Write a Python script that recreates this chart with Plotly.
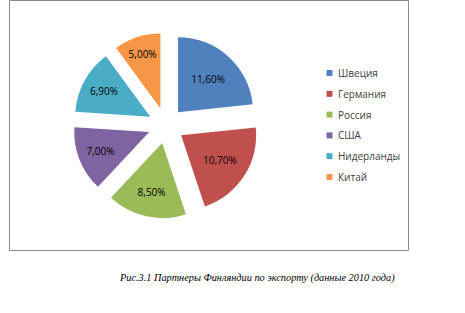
import plotly.graph_objects as go

W, H = 465, 313

categories = ["Швеция", "Германия", "Россия", "США", "Нидерланды", "Китай"]
values = [11.6, 10.7, 8.5, 7.0, 6.9, 5.0]
colors = ["#4F81BD", "#C0504D", "#9BBB59", "#8064A2", "#4BACC6", "#F79646"]
caption = "Рис.3.1 Партнеры Финляндии по экспорту (данные 2010 года)"

labels_text = [f"{v:.2f}".replace(".", ",") + "%" for v in values]

def px_x(x):
    return x / W

def px_y(y):
    return 1 - y / H

fig = go.Figure(go.Pie(
    labels=categories,
    values=values,
    text=labels_text,
    textinfo="text",
    textposition="inside",
    insidetextorientation="horizontal",
    textfont=dict(family="Open Sans, sans-serif", size=10, color="#000000"),
    marker=dict(colors=colors, line=dict(width=0)),
    sort=False,
    direction="clockwise",
    rotation=0,
    pull=[0.24] * len(values),
    hoverinfo="label+percent",
    domain=dict(x=[px_x(73), px_x(259)], y=[px_y(221), px_y(30)]),
    showlegend=False,
))

shapes = [dict(type="rect", xref="paper", yref="paper",
               x0=px_x(9.5), x1=px_x(408.5), y0=px_y(250.5), y1=px_y(0.5),
               line=dict(color="#8a8a8a", width=1), fillcolor="rgba(0,0,0,0)")]
annotations = []
for i, (cat, col) in enumerate(zip(categories, colors)):
    yc = 73 + i * 20.8
    shapes.append(dict(type="rect", xref="paper", yref="paper",
                       x0=px_x(326.5), x1=px_x(332.5), y0=px_y(yc + 3), y1=px_y(yc - 3),
                       line=dict(width=0), fillcolor=col))
    annotations.append(dict(text=cat, xref="paper", yref="paper",
                            x=px_x(336), y=px_y(yc), xanchor="left", yanchor="middle",
                            showarrow=False,
                            font=dict(family="Open Sans, sans-serif", size=10, color="#404040")))

annotations.append(dict(text=caption, xref="paper", yref="paper",
                        x=px_x(257), y=px_y(278), xanchor="center", yanchor="middle",
                        showarrow=False,
                        font=dict(family="Liberation Serif, serif", size=10.3, color="#000000",
                                  style="italic")))

fig.update_layout(
    width=W, height=H,
    margin=dict(l=0, r=0, t=0, b=0),
    paper_bgcolor="white",
    plot_bgcolor="white",
    shapes=shapes,
    annotations=annotations,
)

fig.write_html("out.html")
